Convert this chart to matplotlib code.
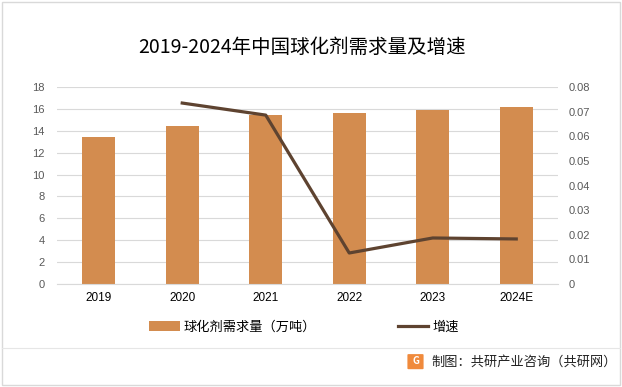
import matplotlib
matplotlib.use("Agg")
import matplotlib.pyplot as plt
from matplotlib.lines import Line2D
from matplotlib.patches import Patch, Rectangle, FancyBboxPatch

plt.rcParams['font.family'] = ['Noto Sans CJK SC', 'DejaVu Sans']

categories = ["2019", "2020", "2021", "2022", "2023", "2024E"]
demand = [13.4, 14.4, 15.4, 15.6, 15.9, 16.2]
growth_years = ["2020", "2021", "2022", "2023", "2024E"]
growth = [0.0735, 0.0686, 0.0126, 0.0187, 0.0183]
left_ticks = [0, 2, 4, 6, 8, 10, 12, 14, 16, 18]
right_ticks = [0, 0.01, 0.02, 0.03, 0.04, 0.05, 0.06, 0.07, 0.08]
right_labels = ["0", "0.01", "0.02", "0.03", "0.04", "0.05", "0.06", "0.07", "0.08"]

bar_color = "#D38C4F"
line_color = "#5E4330"
tick_color = "#595959"

fig = plt.figure(figsize=(6.22, 3.87), dpi=100)
fig.patch.set_facecolor("white")
# outer border
fig.add_artist(Rectangle((0.004, 0.004), 0.992, 0.992, transform=fig.transFigure,
                         fill=False, edgecolor="#D9D9D9", linewidth=1.0))

ax = fig.add_axes([0.0916, 0.2661, 0.8055, 0.509])
x = list(range(len(categories)))
ax.bar(x, demand, width=0.4, color=bar_color, zorder=2)
ax.set_ylim(0, 18)
ax.set_xlim(-0.5, len(categories) - 0.5)
ax.set_yticks(left_ticks)
ax.set_yticklabels([str(t) for t in left_ticks], fontsize=8, color=tick_color, family=['Liberation Sans'])
ax.set_xticks(x)
ax.set_xticklabels(categories, fontsize=8.5, color="#000000", family=['Liberation Sans'])
ax.grid(axis='y', color="#D9D9D9", linewidth=0.8, zorder=0)
ax.tick_params(axis='y', length=0, pad=9)
ax.tick_params(axis='x', length=0, pad=6)
for s in ax.spines.values():
    s.set_visible(False)
ax.spines['bottom'].set_visible(True)
ax.spines['bottom'].set_color("#D9D9D9")

ax2 = ax.twinx()
gx = [categories.index(c) for c in growth_years]
ax2.plot(gx, growth, color=line_color, linewidth=2.3, zorder=3)
ax2.set_ylim(0, 0.08)
ax2.set_yticks(right_ticks)
ax2.set_yticklabels(right_labels, fontsize=8, color=tick_color, family=['Liberation Sans'])
ax2.tick_params(axis='y', length=0, pad=8)
for s in ax2.spines.values():
    s.set_visible(False)

fig.text(0.485, 0.877, "2019-2024年中国球化剂需求量及增速", ha='center', va='center',
         fontsize=14, color="#000000")

handles = [Patch(facecolor=bar_color, edgecolor='none'),
           Line2D([0], [0], color=line_color, linewidth=2.3)]
fig.legend(handles, ["球化剂需求量（万吨）", "增速"], loc='center', bbox_to_anchor=(0.489, 0.155),
           ncol=2, frameon=False, fontsize=9.5, columnspacing=6.2, handlelength=2.3,
           handleheight=0.7, handletextpad=0.3)

# separator line
fig.add_artist(Line2D([0.004, 0.996], [0.101, 0.101], transform=fig.transFigure,
                      color="#E6E6E6", linewidth=0.8))
# source logo
fig.add_artist(FancyBboxPatch((0.657, 0.048), 0.022, 0.035, boxstyle="round,pad=0.002",
                              transform=fig.transFigure, facecolor="#F08A3C", edgecolor='none'))
fig.text(0.668, 0.066, "G", ha='center', va='center', fontsize=7, color="white", fontweight='bold')
fig.text(0.693, 0.064, "制图：共研产业咨询（共研网）", ha='left', va='center', fontsize=9.5, color="#222222")

fig.savefig("out.png", dpi=100)
